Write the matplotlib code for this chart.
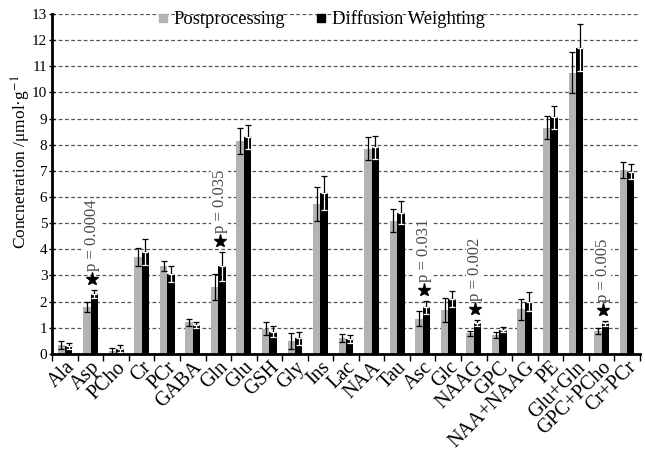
import matplotlib
matplotlib.use('Agg')
import matplotlib.pyplot as plt
import numpy as np
from matplotlib.lines import Line2D

plt.rcParams['font.family'] = ['Liberation Serif', 'DejaVu Serif']
plt.rcParams['mathtext.fontset'] = 'stix'

metabolites = ['Ala', 'Asp', 'PCho', 'Cr', 'PCr', 'GABA', 'Gln', 'Glu', 'GSH', 'Gly',
               'Ins', 'Lac', 'NAA', 'Tau', 'Asc', 'Glc', 'NAAG', 'GPC', 'NAA+NAAG',
               'PE', 'Glu+Gln', 'GPC+PCho', 'Cr+PCr']

post_mean = [0.35, 1.8, 0.12, 3.7, 3.35, 1.2, 2.55, 8.15, 0.95, 0.5,
             5.75, 0.6, 7.85, 5.1, 1.35, 1.68, 0.78, 0.72, 1.71,
             8.65, 10.76, 0.88, 7.04]
post_err = [0.15, 0.2, 0.12, 0.35, 0.2, 0.13, 0.5, 0.5, 0.25, 0.3,
            0.65, 0.15, 0.45, 0.45, 0.3, 0.45, 0.1, 0.1, 0.4,
            0.45, 0.8, 0.12, 0.3]

diff_mean = [0.3, 2.3, 0.2, 3.9, 3.05, 1.1, 3.35, 8.3, 0.85, 0.6,
             6.15, 0.55, 7.9, 5.4, 1.78, 2.09, 1.17, 0.92, 2.0,
             9.05, 11.71, 1.17, 6.97]
diff_err = [0.1, 0.15, 0.15, 0.5, 0.3, 0.13, 0.55, 0.45, 0.2, 0.25,
            0.65, 0.15, 0.45, 0.45, 0.25, 0.3, 0.12, 0.1, 0.35,
            0.45, 0.9, 0.1, 0.3]

# significant differences: metabolite -> p value
sig_names = ['Asp', 'Gln', 'Asc', 'NAAG', 'GPC+PCho']
sig_labels = ['p = 0.0004', 'p = 0.035', 'p = 0.031', 'p = 0.002', 'p = 0.005']

fig = plt.figure(figsize=(6.45, 4.53), dpi=100)
ax = fig.add_axes([0.081, 0.219, 0.911, 0.75])

x = np.arange(len(metabolites))
w = 0.29
grey = '#b3b3b3'

ax.bar(x - w / 2, post_mean, w, color=grey, zorder=2)
ax.bar(x + w / 2, diff_mean, w, color='black', zorder=2)

ax.errorbar(x - w / 2, post_mean, yerr=post_err, fmt='none', ecolor='black',
            elinewidth=0.9, capsize=2.2, capthick=0.9, zorder=3)
zeros = np.zeros(len(x))
ax.errorbar(x + w / 2, diff_mean, yerr=[zeros, diff_err], fmt='none', ecolor='black',
            elinewidth=0.9, capsize=2.2, capthick=0.9, zorder=3)
ax.errorbar(x + w / 2, diff_mean, yerr=[diff_err, zeros], fmt='none', ecolor='white',
            elinewidth=0.9, capsize=2.2, capthick=0.9, zorder=3)

for name, lab in zip(sig_names, sig_labels):
    i = metabolites.index(name)
    top = diff_mean[i] + diff_err[i]
    ax.plot(i + 0.05, top + 0.42, marker='*', color='black', markersize=9.5, zorder=4)
    ax.text(i + 0.05, top + 0.72, lab, rotation=90, ha='center', va='bottom',
            fontsize=12, color='#4a4a4a', zorder=4,
            bbox=dict(facecolor='white', edgecolor='none', pad=0.5))

ax.set_ylim(0, 13)
ax.set_xlim(-0.5, len(metabolites) - 0.5)
ax.set_yticks(range(0, 14))
ax.tick_params(axis='y', direction='inout', length=5, width=1, labelsize=11, pad=1)
ax.yaxis.grid(True, linestyle=(0, (3, 2)), color='#555555', linewidth=0.9, zorder=0)
ax.set_axisbelow(True)

ax.set_xticks(x)
ax.set_xticklabels(metabolites, rotation=45, ha='right', rotation_mode='anchor', fontsize=14.5)
ax.tick_params(axis='x', length=0, pad=3)
ax.set_xticks(np.arange(len(metabolites) + 1) - 0.5, minor=True)
ax.tick_params(axis='x', which='minor', direction='out', length=5, width=1)

for s in ['top', 'right']:
    ax.spines[s].set_visible(False)
ax.spines['left'].set_linewidth(2)
ax.spines['bottom'].set_linewidth(2)

ax.set_ylabel('Concnetration /μmol·g$^{-1}$', fontsize=12.5)
ax.yaxis.set_label_coords(-0.033, 0.565)

handles = [Line2D([], [], marker='s', linestyle='none', color=grey, markersize=6),
           Line2D([], [], marker='s', linestyle='none', color='black', markersize=6)]
ax.legend(handles, ['Postprocessing', 'Diffusion Weighting'], ncol=2, frameon=False,
          loc='center', bbox_to_anchor=(0.454, 0.985), fontsize=13.4,
          handletextpad=0.1, columnspacing=1.4, handlelength=1)

fig.savefig('out.png', dpi=100)
